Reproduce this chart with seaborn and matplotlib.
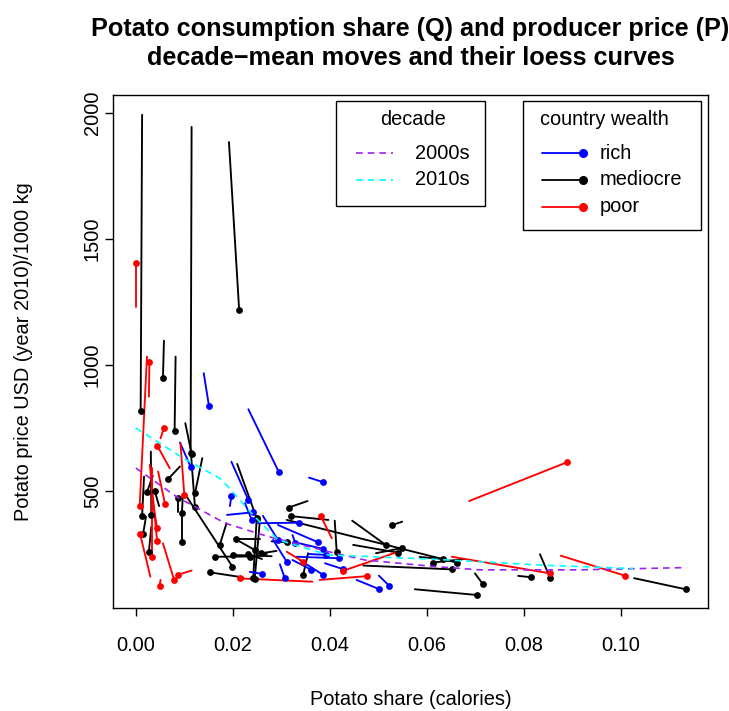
import numpy as np
import pandas as pd
import matplotlib
matplotlib.use("Agg")
import matplotlib.pyplot as plt
import seaborn as sns
from matplotlib.patches import Rectangle

# decade-mean moves: start (x0, y0) -> end (x1, y1); the end gets a dot
rich_x0 = [0.0140, 0.0091, 0.0232, 0.0197, 0.0357, 0.0194, 0.0188, 0.0225, 0.0252, 0.0293, 0.0262, 0.0235,
           0.0297, 0.0283, 0.0323, 0.0338, 0.0338, 0.0323, 0.0331, 0.0355, 0.0455, 0.0501, 0.0390]
rich_y0 = [967, 692, 824, 616, 553, 440, 405, 451, 372, 365, 401, 179, 209, 306, 325, 292, 226, 226, 239, 250,
           147, 164, 213]
rich_x1 = [0.0151, 0.0113, 0.0295, 0.0232, 0.0386, 0.0197, 0.0241, 0.0239, 0.0336, 0.0376, 0.0293, 0.0261,
           0.0307, 0.0311, 0.0329, 0.0386, 0.0386, 0.0362, 0.0419, 0.0393, 0.0502, 0.0522, 0.0427]
rich_y1 = [835, 596, 574, 464, 535, 481, 415, 385, 374, 296, 306, 171, 154, 219, 292, 270, 167, 187, 233, 246,
           110, 124, 190]

mediocre_x0 = [0.0013, 0.0115, 0.0192, 0.0058, 0.0082, 0.0102, 0.0137, 0.0091, 0.0017, 0.0035, 0.0031, 0.0048,
               0.0021, 0.0032, 0.0087, 0.0095, 0.0105, 0.0187, 0.0240, 0.0221, 0.0209, 0.0354, 0.0397, 0.0311,
               0.0410, 0.0280, 0.0256, 0.0208, 0.0280, 0.0260, 0.0270, 0.0249, 0.0256, 0.0355, 0.0549, 0.0446,
               0.0448, 0.0495, 0.0677, 0.0469, 0.0575, 0.0699, 0.0833, 0.0788, 0.1027, 0.0114, 0.0097, 0.0290,
               0.0585]
mediocre_y0 = [1992, 1944, 1884, 1096, 1033, 769, 630, 597, 557, 560, 656, 440, 398, 358, 418, 412, 477, 372,
               240, 157, 607, 460, 385, 385, 382, 300, 308, 306, 241, 230, 250, 385, 388, 253, 378, 382, 286,
               253, 230, 204, 110, 173, 249, 163, 154, 640, 484, 262, 238]
mediocre_x1 = [0.0010, 0.0113, 0.0213, 0.0056, 0.0080, 0.0115, 0.0122, 0.0067, 0.0013, 0.0023, 0.0032, 0.0039,
               0.0015, 0.0027, 0.0087, 0.0095, 0.0199, 0.0173, 0.0164, 0.0153, 0.0249, 0.0315, 0.0320, 0.0661,
               0.0414, 0.0311, 0.0206, 0.0245, 0.0200, 0.0231, 0.0235, 0.0242, 0.0245, 0.0345, 0.0529, 0.0515,
               0.0541, 0.0548, 0.0613, 0.0651, 0.0704, 0.0715, 0.0854, 0.0814, 0.1133, 0.0122, 0.0095, 0.0259,
               0.0634]
mediocre_y1 = [817, 651, 1218, 950, 738, 647, 491, 548, 401, 495, 405, 500, 329, 259, 472, 298, 200, 286, 239,
               177, 392, 434, 400, 216, 259, 296, 308, 266, 246, 250, 237, 154, 151, 167, 365, 286, 255, 273,
               216, 189, 87, 131, 154, 158, 110, 435, 412, 253, 230]

poor_x0 = [0.0000, 0.0023, 0.0027, 0.0051, 0.0070, 0.0092, 0.0030, 0.0034, 0.0029, 0.0033, 0.0046, 0.0056,
           0.0115, 0.0051, 0.0364, 0.0379, 0.0404, 0.0311, 0.0541, 0.0687, 0.0651, 0.0876]
poor_y0 = [1230, 1033, 874, 709, 590, 689, 160, 471, 603, 590, 577, 292, 184, 147, 140, 147, 312, 259, 259,
           460, 239, 243]
poor_x1 = [0.0000, 0.0008, 0.0028, 0.0058, 0.0044, 0.0100, 0.0009, 0.0044, 0.0044, 0.0033, 0.0060, 0.0079,
           0.0086, 0.0049, 0.0214, 0.0476, 0.0381, 0.0345, 0.0427, 0.0889, 0.0854, 0.1008]
poor_y1 = [1405, 440, 1010, 749, 680, 484, 328, 352, 300, 239, 450, 147, 167, 124, 153, 162, 401, 219, 183,
           614, 173, 164]

# loess curves
loess_2000s_x = [0.0, 0.0084, 0.0184, 0.0273, 0.041, 0.0472, 0.0616, 0.0709, 0.0915, 0.1135]
loess_2000s_y = [591, 477, 372, 319, 253, 226, 200, 187, 187, 196]
loess_2010s_x = [0.0, 0.0098, 0.0173, 0.019, 0.0245, 0.0293, 0.0397, 0.0616, 0.0709, 0.0847, 0.1025]
loess_2010s_y = [750, 630, 550, 517, 398, 306, 246, 229, 219, 205, 192]

wealth_levels = ["rich", "mediocre", "poor"]
wealth_colors = {"rich": "#0000FF", "mediocre": "#000000", "poor": "#FF0000"}
decade_colors = {"2000s": "#A020F0", "2010s": "#00FFFF"}


def build_frames():
    seg_rows, end_rows = [], []
    groups = [
        ("mediocre", mediocre_x0, mediocre_y0, mediocre_x1, mediocre_y1),
        ("rich", rich_x0, rich_y0, rich_x1, rich_y1),
        ("poor", poor_x0, poor_y0, poor_x1, poor_y1),
    ]
    for wealth, xs0, ys0, xs1, ys1 in groups:
        for i in range(len(xs0)):
            seg = f"{wealth}_{i}"
            seg_rows.append({"seg": seg, "wealth": wealth, "step": 0, "x": xs0[i], "y": ys0[i]})
            seg_rows.append({"seg": seg, "wealth": wealth, "step": 1, "x": xs1[i], "y": ys1[i]})
            end_rows.append({"wealth": wealth, "x": xs1[i], "y": ys1[i]})
    loess = pd.concat([
        pd.DataFrame({"decade": "2000s", "x": loess_2000s_x, "y": loess_2000s_y}),
        pd.DataFrame({"decade": "2010s", "x": loess_2010s_x, "y": loess_2010s_y}),
    ])
    return pd.DataFrame(seg_rows), pd.DataFrame(end_rows), loess


def main():
    segs, ends, loess = build_frames()

    sns.set_style("ticks")
    plt.rcParams["font.family"] = ["Liberation Sans", "DejaVu Sans"]
    plt.rcParams["font.size"] = 14.4
    plt.rcParams["text.color"] = "black"
    plt.rcParams["axes.labelcolor"] = "black"

    fig = plt.figure(figsize=(7.29, 7.11), dpi=100)
    ax = fig.add_axes([0.155, 0.145, 0.816, 0.7215])

    for wealth in ["mediocre", "rich", "poor"]:
        sub = segs[segs["wealth"] == wealth]
        sns.lineplot(data=sub, x="x", y="y", units="seg", estimator=None, sort=False,
                     color=wealth_colors[wealth], linewidth=1.35, ax=ax, legend=False)
        e = ends[ends["wealth"] == wealth]
        sns.scatterplot(data=e, x="x", y="y", color=wealth_colors[wealth], s=24,
                        linewidth=0, ax=ax, legend=False, zorder=3)

    sns.lineplot(data=loess, x="x", y="y", hue="decade", palette=decade_colors, estimator=None,
                 sort=False, linewidth=1.2, linestyle=(0, (4, 3)), ax=ax, legend=False, zorder=4)

    ax.set_xlim(-0.0047, 0.1179)
    ax.set_ylim(36, 2071)
    ax.set_xticks([0.0, 0.02, 0.04, 0.06, 0.08, 0.10])
    ax.set_xticklabels(["0.00", "0.02", "0.04", "0.06", "0.08", "0.10"])
    ax.set_yticks([500, 1000, 1500, 2000])
    ax.set_yticklabels(["500", "1000", "1500", "2000"], rotation=90, va="center")
    ax.tick_params(axis="both", length=6, width=1, color="black", labelsize=14.4, labelcolor="black")
    ax.tick_params(axis="x", pad=14)
    ax.tick_params(axis="y", pad=2)
    for sp in ax.spines.values():
        sp.set_color("black")
        sp.set_linewidth(1.0)

    ax.set_xlabel("Potato share (calories)", fontsize=14.4)
    ax.xaxis.set_label_coords(0.5, -0.179)
    ax.xaxis.label.set_va("center")
    ax.set_ylabel("Potato price USD (year 2010)/1000 kg", fontsize=14.4)
    ax.yaxis.set_label_coords(-0.15, 0.5)
    ax.yaxis.label.set_va("center")

    fig.text(0.5631, 0.939,
             "Potato consumption share (Q) and producer price (P)\ndecade\u2212mean moves and their loess curves",
             ha="center", va="center", fontsize=18.2, fontweight="bold", linespacing=1.28, color="black")

    # legend: decade
    tr = ax.transAxes
    ax.add_patch(Rectangle((0.3748, 0.7836), 0.2504, 0.2053, transform=tr, facecolor="white",
                           edgecolor="black", linewidth=1.0, zorder=5))
    ax.text(0.5047, 0.9513, "decade", transform=tr, ha="center", va="center", fontsize=14.4, zorder=6)
    for dec, yy in [("2000s", 0.8863), ("2010s", 0.8343)]:
        ax.plot([0.4084, 0.4706], [yy, yy], transform=tr, color=decade_colors[dec], linewidth=1.2,
                linestyle=(0, (4, 3)), zorder=6)
        ax.text(0.5076, yy, dec, transform=tr, ha="left", va="center", fontsize=14.4, zorder=6)

    # legend: country wealth
    ax.add_patch(Rectangle((0.6886, 0.7368), 0.2996, 0.2521, transform=tr, facecolor="white",
                           edgecolor="black", linewidth=1.0, zorder=5))
    ax.text(0.8264, 0.9513, "country wealth", transform=tr, ha="center", va="center", fontsize=14.4, zorder=6)
    for wealth, yy in zip(wealth_levels, [0.8863, 0.8343, 0.7817]):
        ax.plot([0.7205, 0.7904], [yy, yy], transform=tr, color=wealth_colors[wealth], linewidth=1.3, zorder=6)
        ax.plot([0.7904], [yy], transform=tr, marker="o", markersize=5.5, color=wealth_colors[wealth],
                linestyle="none", zorder=6)
        ax.text(0.8185, yy, wealth, transform=tr, ha="left", va="center", fontsize=14.4, zorder=6)

    fig.savefig("out.png", dpi=100)
    plt.close(fig)


if __name__ == "__main__":
    main()
